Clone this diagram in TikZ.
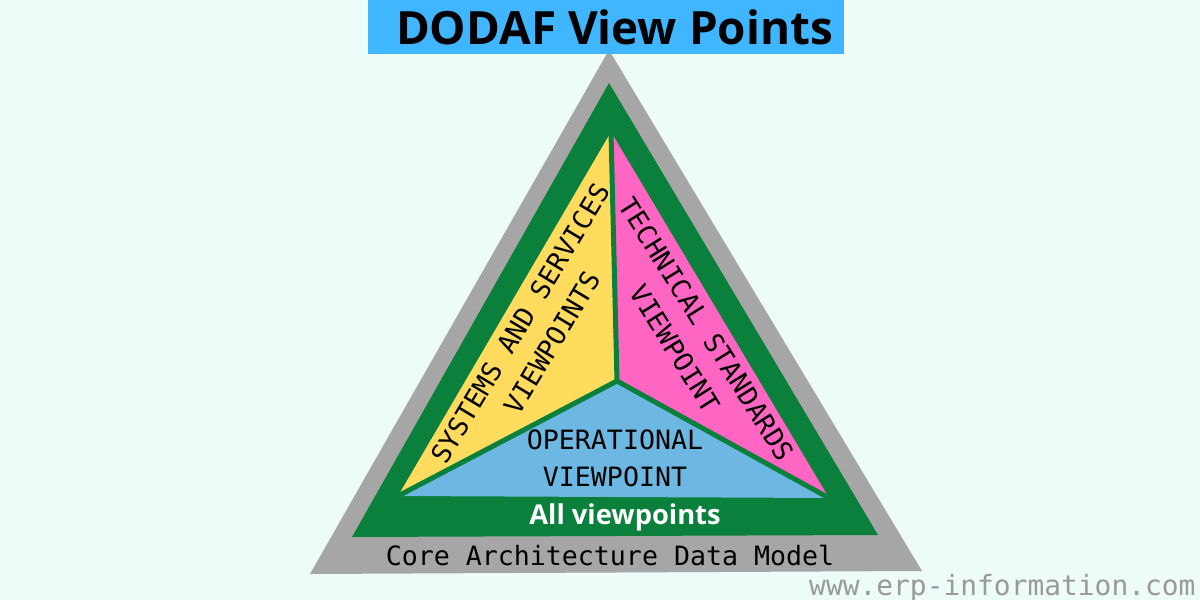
\documentclass[tikz,border=0pt]{standalone}
\usepackage{fontspec}
\setmonofont{DejaVu Sans Mono}
\newfontfamily\titlefont{Open Sans}
\definecolor{bgc}{HTML}{EEFCF9}
\definecolor{titlec}{HTML}{3FB6FF}
\definecolor{grayc}{HTML}{A6A6A6}
\definecolor{greenc}{HTML}{0B803D}
\definecolor{yellowc}{HTML}{FFDB5E}
\definecolor{pinkc}{HTML}{FF66C4}
\definecolor{bluec}{HTML}{6CB8E2}
\definecolor{wmc}{HTML}{9A9A9A}
\tikzset{
  monotext/.style={font=\ttfamily\fontsize{26.6bp}{37bp}\selectfont, inner sep=0pt, align=center, text=black},
  sepline/.style={draw=greenc, line width=5bp},
}
\begin{document}
\begin{tikzpicture}[x=1bp,y=-1bp]
\useasboundingbox (0,0) rectangle (1200,600);
\fill[bgc] (0,0) rectangle (1200,600);
% triangles
\coordinate (g1) at (609,50);
\coordinate (g2) at (310,574);
\coordinate (g3) at (922,571);
\fill[grayc] (g1) -- (g2) -- (g3) -- cycle;
\coordinate (k1) at (609,83);
\coordinate (k2) at (352,537);
\coordinate (k3) at (878,535);
\fill[greenc] (k1) -- (k2) -- (k3) -- cycle;
\coordinate (A) at (611,132);
\coordinate (L) at (398,496);
\coordinate (R) at (829,498);
\coordinate (C) at (617,381);
\fill[yellowc] (A) -- (C) -- (L) -- cycle;
\fill[pinkc] (A) -- (R) -- (C) -- cycle;
\fill[bluec] (L) -- (C) -- (R) -- cycle;
\draw[sepline] (A) -- (C);
\draw[sepline] (L) -- (C) -- (R);
% title
\fill[titlec] (368,0) rectangle (844,54);
\node[anchor=base, inner sep=0pt, font=\titlefont\bfseries\fontsize{45.8bp}{50bp}\selectfont] (title) at (614.5,45) {DODAF View Points};
% labels
\node[monotext, rotate=59] (sys) at (536,333) {SYSTEMS AND SERVICES\\VIEWPOINTS};
\node[monotext, rotate=-58] (tech) at (691,339) {TECHNICAL STANDARDS\\VIEWPOINT};
\node[monotext] (oper) at (615,458.5) {OPERATIONAL\\VIEWPOINT};
\node[anchor=base, inner sep=0pt, text=white, font=\titlefont\bfseries\fontsize{27.3bp}{30bp}\selectfont] (all) at (625,524) {All viewpoints};
\node[monotext, anchor=base] (core) at (610,565) {Core Architecture Data Model};
\node[anchor=base west, inner sep=0pt, text=wmc, font=\ttfamily\fontsize{27.9bp}{30bp}\selectfont] (wm) at (809,595) {www.erp-information.com};
\end{tikzpicture}
\end{document}
